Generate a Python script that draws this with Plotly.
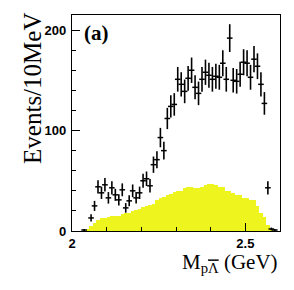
import numpy as np
import plotly.graph_objects as go

# bin centres (GeV), 10 MeV bins
mass = [2.005, 2.015, 2.025, 2.035, 2.045, 2.055, 2.065, 2.075, 2.085, 2.095,
        2.105, 2.115, 2.125, 2.135, 2.145, 2.155, 2.165, 2.175, 2.185, 2.195,
        2.205, 2.215, 2.225, 2.235, 2.245, 2.255, 2.265, 2.275, 2.285, 2.295,
        2.305, 2.315, 2.325, 2.335, 2.345, 2.355, 2.365, 2.375, 2.385, 2.395,
        2.405, 2.415, 2.425, 2.435, 2.445, 2.455, 2.465, 2.475, 2.485, 2.495,
        2.505, 2.515, 2.525, 2.535, 2.545, 2.555, 2.565, 2.575, 2.585, 2.595]

# data events per bin
events = [None, None, None, 1, None, 13, 25, 44, 38, 46,
          33, 43, 36, 31, 41, 23, 30, 40, 33, 38,
          50, 52, 45, 66, 71, 93, 80, 112, 124, 126,
          151, 146, 139, 152, 160, 143, 137, 151, 158, 155,
          151, 154, 153, 167, 151, 192, 150, 149, 156, 168,
          167, 153, 171, 164, 146, 127, 43, 2, 1, None]

# phase-space MC (yellow histogram)
mc = [0, 0, 0, 0, 2, 5, 8, 11, 13, 13,
      14, 15, 15, 15, 17, 18, 18, 20, 21, 22,
      24, 25, 26, 27, 31, 33, 34, 36, 37, 39,
      40, 40, 43, 44, 44, 43, 43, 44, 46, 47,
      47, 46, 44, 44, 40, 40, 38, 36, 36, 33,
      33, 31, 31, 25, 18, 14, 6, 2, 0, 0]

x_ticks = [2, 2.5]
x_ticklabels = ["2", "2.5"]
y_ticks = [0, 100, 200]
y_ticklabels = ["0", "100", "200"]

errs = [None if v is None else float(np.sqrt(v)) for v in events]

fig = go.Figure()
fig.add_trace(go.Bar(
    x=mass, y=mc, width=0.01,
    marker=dict(color="#eef51e", line=dict(width=0)),
    showlegend=False, hoverinfo="skip"))
fig.add_trace(go.Scatter(
    x=mass, y=events, mode="markers",
    marker=dict(symbol="line-ew-open", size=4, color="black",
                line=dict(color="black", width=1.5)),
    error_y=dict(type="data", array=errs, visible=True,
                 color="black", thickness=1.6, width=0),
    showlegend=False))

tickfont = dict(family="Liberation Sans", size=13, color="black", weight="bold")

# page body has an 8px margin, so the figure is shrunk by 8px in each direction
fig.update_layout(
    width=286, height=282,
    margin=dict(l=64, r=14, t=7, b=58.5),
    paper_bgcolor="white", plot_bgcolor="white",
    bargap=0,
    xaxis=dict(range=[2, 2.6], tickvals=x_ticks, ticktext=x_ticklabels,
               ticks="inside", ticklen=8, tickwidth=1.2, tickcolor="black",
               minor=dict(dtick=0.1, tick0=2, ticks="inside", ticklen=4,
                          tickwidth=1.2, tickcolor="black", showgrid=False),
               showline=True, linecolor="black", linewidth=1.3, mirror=True,
               showgrid=False, zeroline=False, tickfont=tickfont),
    yaxis=dict(range=[0, 215], tickvals=y_ticks, ticktext=y_ticklabels,
               ticks="inside", ticklen=8, tickwidth=1.2, tickcolor="black",
               minor=dict(dtick=20, tick0=0, ticks="inside", ticklen=4,
                          tickwidth=1.2, tickcolor="black", showgrid=False),
               showline=True, linecolor="black", linewidth=1.3, mirror=True,
               showgrid=False, zeroline=False, tickfont=tickfont, ticklabelstandoff=2),
    annotations=[
        dict(text="(a)", xref="paper", yref="paper", x=0.05, y=0.98,
             xanchor="left", yanchor="top", showarrow=False,
             font=dict(family="Liberation Serif", size=21, color="black", weight="bold")),
        dict(text="Events/10MeV", xref="paper", yref="paper", x=-0.19, y=0.66,
             xanchor="center", yanchor="middle", textangle=-90, showarrow=False,
             font=dict(family="Liberation Serif", size=25, color="black")),
        dict(text="M<sub>p<span style=\"text-decoration:overline\">\u039b</span></sub> (GeV)",
             xref="paper", yref="paper",
             x=1.0, y=-0.08, xanchor="right", yanchor="top", showarrow=False,
             font=dict(family="Liberation Serif", size=21, color="black")),
    ],
)

fig.write_html("out.html")
